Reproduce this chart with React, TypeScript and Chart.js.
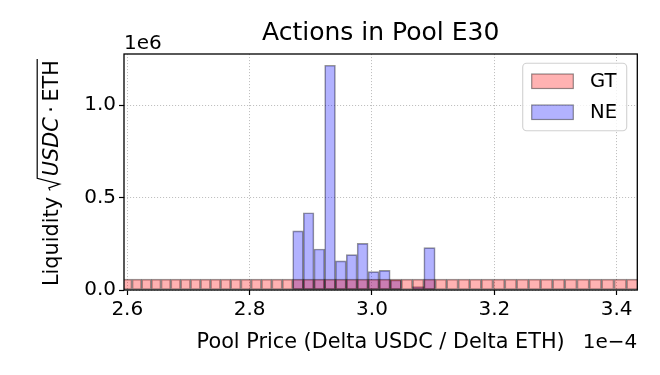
import React, { useEffect, useRef } from 'react';
import { Chart, registerables } from 'chart.js';

Chart.register(...registerables);

// ---------------- data ----------------
const TITLE = 'Actions in Pool E30';
const X_LABEL = 'Pool Price (Delta USDC / Delta ETH)';
const X_OFFSET_LABEL = '1e\u22124';
const Y_OFFSET_LABEL = '1e6';
const SERIES_NAMES = ['GT', 'NE'];

// bin centres, price in units of 1e-4 (tick-spacing-60 bins)
const gtBinCenters = [
  2.5999, 2.61555, 2.6313, 2.64715, 2.66305, 2.67905, 2.6952, 2.71145, 2.72775, 2.74415,
  2.7607, 2.7773, 2.794, 2.8108, 2.8277, 2.84475, 2.86185, 2.87905, 2.8964, 2.91385,
  2.9314, 2.94905, 2.9668, 2.98465, 3.0026, 3.02065, 3.0388, 3.0571, 3.0755, 3.094,
  3.11265, 3.1314, 3.15025, 3.1692, 3.18825, 3.2074, 3.2267, 3.24615, 3.2657, 3.28535,
  3.3051, 3.325, 3.34505, 3.3652, 3.38545, 3.4058, 3.42625,
];
const gtLiquidity = [
  59000, 59000, 59000, 59000, 59000, 59000, 59000, 59000, 59000, 59000,
  59000, 59000, 59000, 59000, 59000, 59000, 59000, 59000, 59000, 59000,
  59000, 59000, 59000, 59000, 59000, 59000, 59000, 59000, 59000, 59000,
  59000, 59000, 59000, 59000, 59000, 59000, 59000, 59000, 59000, 59000,
  59000, 59000, 59000, 59000, 59000, 59000, 59000,
];

const neBinCenters = [
  2.87905, 2.8964, 2.91385, 2.9314, 2.94905, 2.9668, 2.98465, 3.0026, 3.02065, 3.0388,
  3.0571, 3.0755, 3.094,
];
const neLiquidity = [
  320000, 418000, 222000, 1216000, 158000, 191000, 252000, 99000, 106000, 54000,
  0, 18000, 229000,
];

const xTicks = [2.6, 2.8, 3.0, 3.2, 3.4];
const yTicks = [0, 500000, 1000000];
const X_MIN = 2.5946;
const X_MAX = 3.4337;
const Y_MAX = 1277000;

// ---------------- styles ----------------
const FONT = '"DejaVu Sans", sans-serif';
const GT_FILL = 'rgba(255,0,0,0.3)';
const NE_FILL = 'rgba(0,0,255,0.3)';
const EDGE = 'rgba(0,0,0,0.42)';

const TICK_SIZE = 20;
const LABEL_SIZE = 20.8;
const LEGEND_SIZE = 19.6;
const TITLE_SIZE = 25;

function drawYLabel(ctx: CanvasRenderingContext2D, baseX: number, startY: number) {
  ctx.save();
  ctx.translate(baseX, startY);
  ctx.rotate(-Math.PI / 2);
  ctx.fillStyle = '#000';
  ctx.textBaseline = 'alphabetic';
  ctx.textAlign = 'left';
  const s = LABEL_SIZE;
  ctx.font = `${s}px ${FONT}`;
  let x = 0;
  ctx.fillText('Liquidity', x, 0);
  x += ctx.measureText('Liquidity ').width;
  // radical
  const barY = -s * 1.0;
  const rx = x;
  ctx.strokeStyle = '#000';
  ctx.lineWidth = 1.2;
  ctx.beginPath();
  ctx.moveTo(rx, -s * 0.38);
  ctx.lineTo(rx + s * 0.12, -s * 0.44);
  ctx.lineTo(rx + s * 0.3, s * 0.08);
  ctx.lineTo(rx + s * 0.58, barY);
  x = rx + s * 0.68;
  ctx.font = `italic ${s}px ${FONT}`;
  ctx.fillText('USDC', x, 0);
  x += ctx.measureText('USDC').width + s * 0.22;
  ctx.font = `${s}px ${FONT}`;
  ctx.fillText('\u00b7', x, 0);
  x += ctx.measureText('\u00b7').width + s * 0.22;
  ctx.fillText('ETH', x, 0);
  x += ctx.measureText('ETH').width + s * 0.05;
  ctx.lineTo(x, barY);
  ctx.stroke();
  ctx.restore();
}

const decorPlugin = {
  id: 'decor',
  afterDraw(chart: any) {
    const { ctx, chartArea: ca } = chart;
    ctx.save();
    // spines
    ctx.strokeStyle = '#000';
    ctx.lineWidth = 1.3;
    ctx.strokeRect(ca.left, ca.top, ca.right - ca.left, ca.bottom - ca.top);

    ctx.fillStyle = '#000';
    // title
    ctx.font = `${TITLE_SIZE}px ${FONT}`;
    ctx.textAlign = 'center';
    ctx.textBaseline = 'alphabetic';
    ctx.fillText(TITLE, (ca.left + ca.right) / 2, ca.top - 14);
    // x label
    ctx.font = `${LABEL_SIZE}px ${FONT}`;
    ctx.fillText(X_LABEL, (ca.left + ca.right) / 2, ca.bottom + 58);
    // offset texts
    ctx.font = `${TICK_SIZE}px ${FONT}`;
    ctx.textAlign = 'right';
    ctx.fillText(X_OFFSET_LABEL, ca.right, ca.bottom + 58);
    ctx.textAlign = 'left';
    ctx.fillText(Y_OFFSET_LABEL, ca.left, ca.top - 5);

    // legend
    const lx = ca.right - 114.6;
    const ly = ca.top + 9.3;
    const lw = 104;
    const lh = 67.4;
    ctx.beginPath();
    (ctx as any).roundRect(lx, ly, lw, lh, 4);
    ctx.fillStyle = 'rgba(255,255,255,0.8)';
    ctx.fill();
    ctx.strokeStyle = 'rgba(204,204,204,0.9)';
    ctx.lineWidth = 1.1;
    ctx.stroke();
    const ds = chart.data.datasets;
    ds.forEach((d: any, i: number) => {
      const sy = ly + 10.7 + i * 31;
      ctx.fillStyle = d.backgroundColor;
      ctx.fillRect(lx + 9, sy, 41.6, 14.5);
      ctx.strokeStyle = EDGE;
      ctx.lineWidth = 1.2;
      ctx.strokeRect(lx + 9, sy, 41.6, 14.5);
      ctx.fillStyle = '#000';
      ctx.font = `${LEGEND_SIZE}px ${FONT}`;
      ctx.textAlign = 'left';
      ctx.textBaseline = 'middle';
      ctx.fillText(d.label, lx + 67.3, sy + 8);
    });

    drawYLabel(ctx, 58, ca.bottom - 4);
    ctx.restore();
  },
};

export default function App() {
  const ref = useRef<HTMLCanvasElement>(null);
  useEffect(() => {
    if (!ref.current) return;
    const barCommon = {
      borderColor: EDGE,
      borderWidth: 1,
      borderSkipped: false,
      barThickness: 'flex' as const,
      categoryPercentage: 1,
      barPercentage: 1,
      grouped: true,
      stack: 'hist',
      clip: 0,
    };
    const chart = new Chart(ref.current, {
      type: 'bar',
      data: {
        datasets: [
          {
            label: SERIES_NAMES[0],
            data: gtBinCenters.map((x, i) => ({ x, y: gtLiquidity[i] })),
            backgroundColor: GT_FILL,
            ...barCommon,
          } as any,
          {
            label: SERIES_NAMES[1],
            data: neBinCenters.map((x, i) => ({ x, y: neLiquidity[i] })),
            backgroundColor: NE_FILL,
            ...barCommon,
          } as any,
        ],
      },
      options: {
        animation: false,
        responsive: true,
        maintainAspectRatio: false,
        layout: { padding: { top: 54, right: 22.7, left: 0, bottom: 0 } },
        plugins: {
          legend: { display: false },
          title: { display: false },
          tooltip: { enabled: false },
        },
        scales: {
          x: {
            type: 'linear',
            min: X_MIN,
            max: X_MAX,
            offset: false,
            afterBuildTicks: (axis: any) => {
              axis.ticks = xTicks.map((v) => ({ value: v }));
            },
            afterFit: (axis: any) => {
              axis.height = 85;
            },
            ticks: {
              color: '#000',
              font: { family: FONT, size: TICK_SIZE },
              padding: 3,
              maxRotation: 0,
              autoSkip: false,
              callback: (v: any) => Number(v).toFixed(1),
            },
            grid: {
              offset: false,
              color: 'rgba(176,176,176,0.8)',
              lineWidth: 1,
              tickColor: '#000',
              tickLength: 5,
              tickWidth: 1.2,
              tickBorderDash: [],
            },
            border: { display: false, dash: [1.1, 1.9] },
          },
          y: {
            type: 'linear',
            min: 0,
            max: Y_MAX,
            stacked: false,
            afterBuildTicks: (axis: any) => {
              axis.ticks = yTicks.map((v) => ({ value: v }));
            },
            afterFit: (axis: any) => {
              axis.width = 124;
            },
            ticks: {
              color: '#000',
              font: { family: FONT, size: TICK_SIZE },
              padding: 3,
              callback: (v: any) => (Number(v) / 1e6).toFixed(1),
            },
            grid: {
              color: 'rgba(176,176,176,0.8)',
              lineWidth: 1,
              tickColor: '#000',
              tickLength: 5,
              tickWidth: 1.2,
              tickBorderDash: [],
            },
            border: { display: false, dash: [1.1, 1.9] },
          },
        },
      },
      plugins: [decorPlugin],
    } as any);
    return () => chart.destroy();
  }, []);
  return (
    <div style={{ position: 'fixed', left: 0, top: 0, width: 660, height: 375, background: '#fff' }}>
      <canvas ref={ref} />
    </div>
  );
}
